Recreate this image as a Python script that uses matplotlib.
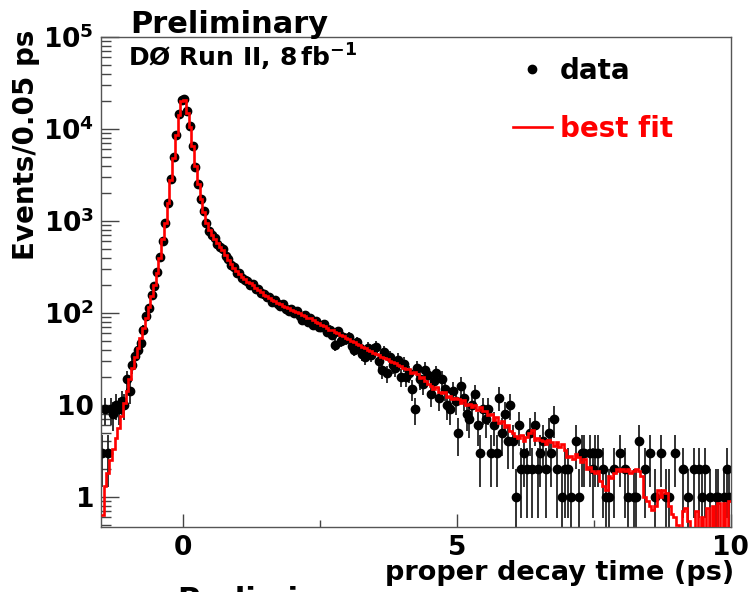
import numpy as np
import matplotlib
matplotlib.use('Agg')
import matplotlib.pyplot as plt
from matplotlib.lines import Line2D
from matplotlib.ticker import FixedLocator, LogLocator, FuncFormatter, NullFormatter

plt.rcParams['font.family'] = ['DejaVu Sans']
plt.rcParams['font.weight'] = 'bold'
plt.rcParams['mathtext.fontset'] = 'dejavusans'

# binning: 0.05 ps bins from -1.5 to 10 ps
bin_lo = -1.5
bin_width = 0.05
n_bins = 230

# fitted model, events per bin
fit_counts = [
    0.63, 1.3, 1.8, 2.5, 3.3, 4.4, 5.6, 7.6, 10.5, 14,
    19, 25, 33, 42, 54, 69, 89, 115, 151, 200,
    275, 400, 630, 955, 1580, 2800, 4800, 8500, 14100, 20000,
    20400, 15100, 10500, 6600, 4000, 2500, 1740, 1260, 955, 795,
    710, 630, 575, 525, 480, 427, 380, 340, 310, 282,
    263, 245, 234, 219, 209, 200, 186, 178, 170, 158,
    151, 145, 138, 135, 129, 126, 120, 115, 112, 107,
    105, 102, 100, 96, 93, 89, 87, 83, 79, 78,
    74, 72, 69, 66, 65, 62, 60, 58, 56, 54,
    52.5, 50, 48.5, 46, 45, 43, 42, 40, 38.5, 37,
    35.9, 34.7, 33.5, 32.4, 31.3, 30.2, 29.2, 28.2, 27.2, 26.3,
    25.4, 24.5, 24.5, 22.0, 22.9, 21.4, 19.5, 20.0, 18.2, 17.0,
    16.2, 15.0, 15.5, 13.8, 13.5, 13.8, 12.3, 12.6, 11.5, 12.0,
    11.5, 10.5, 11.2, 10.0, 10.3, 9.4, 9.9, 8.9, 9.4, 8.6,
    8.5, 7.7, 8.0, 6.9, 7.3, 6.3, 6.6, 5.7, 6.0, 5.2,
    5.0, 4.6, 4.4, 4.7, 4.0, 4.5, 5.0, 5.3, 4.2, 4.4,
    4.1, 4.0, 3.8, 4.2, 3.9, 3.6, 3.9, 3.5, 3.8, 3.2,
    2.7, 2.8, 2.6, 2.9, 2.7, 2.4, 2.6, 2.0, 2.1, 1.9,
    1.8, 1.9, 1.5, 1.3, 1.2, 1.7, 1.6, 1.8, 2.0, 1.9,
    2.0, 1.9, 2.0, 1.8, 1.9, 2.0, 1.9, 1.7, 1.0, 0.9,
    0.8, 0.72, 0.8, 1.2, 1.0, 1.2, 1.1, 0.8, 0.65, 0.6,
    0.5, 0.3, 0.7, 0.75, 0.55, 0.3, 0.4, 0.7, 0.3, 0.6,
    0.3, 0.75, 0.4, 0.8, 0.35, 0.85, 0.4, 0.85, 0.3, 0.9,
]

# observed events per bin (black points), 0 = empty bin
data_counts = [
    3, 9, 3, 9, 8, 10, 9, 11, 10, 19,
    14, 27, 34, 40, 47, 66, 92, 112, 158, 195,
    280, 410, 610, 960, 1560, 2850, 4900, 8600, 14400, 20800,
    21000, 15600, 10700, 6500, 3900, 2550, 1720, 1280, 960, 780,
    700, 645, 560, 520, 490, 420, 385, 330, 315, 275,
    270, 240, 228, 225, 200, 205, 180, 182, 163, 160,
    148, 150, 132, 137, 124, 118, 125, 110, 106, 111,
    100, 104, 92, 84, 95, 80, 88, 74, 82, 70,
    70, 75, 62, 66, 58, 45, 63, 50, 55, 52,
    55, 44, 40, 48, 42, 36, 33, 42, 35, 40,
    43, 30, 24, 38, 22, 33, 27, 25, 31, 20,
    28, 20, 22, 15, 9, 25, 19, 17, 24, 21,
    13, 18, 22, 12, 19, 15, 10, 9, 14, 11,
    5, 16, 12, 8, 7, 10, 13, 6, 3, 9,
    7, 9, 3, 6, 3, 12, 5, 8, 4, 10,
    4, 1, 6, 2, 3, 2, 5, 2, 6, 2,
    3, 4, 2, 5, 3, 7, 2, 0, 1, 2,
    2, 1, 0, 4, 1, 3, 3, 0, 3, 2,
    3, 3, 0, 2, 1, 1, 0, 2, 0, 3,
    0, 2, 1, 0, 1, 1, 4, 0, 2, 0,
    3, 0, 1, 0, 3, 0, 1, 1, 0, 3,
    0, 0, 2, 0, 1, 0, 2, 0, 2, 1,
    2, 0, 1, 0, 1, 1, 0, 1, 2, 1,
]

x_ticks = [0, 5, 10]
x_minor = [2.5, 7.5]

edges = bin_lo + bin_width * np.arange(n_bins + 1)
centers = 0.5 * (edges[:-1] + edges[1:])
fit = np.array(fit_counts, dtype=float)
n = np.array(data_counts, dtype=float)
has = n > 0
err = np.sqrt(n[has])
lower = np.minimum(err, n[has] - 1e-3)

fig = plt.figure(figsize=(7.48, 5.92), dpi=100)
ax = fig.add_axes([0.135, 0.1098, 0.842, 0.8277])

ax.errorbar(centers[has], n[has], yerr=[lower, err], xerr=bin_width / 2,
            fmt='o', color='black', ecolor='#222222', ms=6, elinewidth=1.3,
            capsize=0, zorder=2)
ax.stairs(fit, edges, baseline=None, color='#ff0000', lw=1.9, zorder=3)

ax.set_yscale('log')
ax.set_xlim(-1.5, 10)
ax.set_ylim(0.47, 1e5)

ax.xaxis.set_major_locator(FixedLocator(x_ticks))
ax.xaxis.set_minor_locator(FixedLocator(x_minor))
ax.xaxis.set_major_formatter(FuncFormatter(lambda v, p: '%d' % v))
ax.yaxis.set_major_locator(LogLocator(base=10, numticks=10))
ax.yaxis.set_minor_locator(LogLocator(base=10, subs=np.arange(2, 10), numticks=20))
ax.yaxis.set_minor_formatter(NullFormatter())


def ylab(v, pos):
    if v < 0.99:
        return ''
    e = int(round(np.log10(v)))
    if e == 0:
        return '1'
    if e == 1:
        return '10'
    return r'$\mathbf{10^{%d}}$' % e


ax.yaxis.set_major_formatter(FuncFormatter(ylab))

ax.tick_params(which='both', direction='in', top=False, right=False,
               labelsize=19, color='#444444')
ax.tick_params(axis='y', which='major', length=13, width=1, pad=5)
ax.tick_params(axis='y', which='minor', length=7, width=1)
ax.tick_params(axis='x', which='major', length=9.5, width=1, pad=6)
ax.tick_params(axis='x', which='minor', length=5, width=1)
for s in ax.spines.values():
    s.set_color('#555555')
    s.set_linewidth(1.0)

ax.set_ylabel('Events/0.05 ps', fontsize=20, fontweight='bold', loc='top')
ax.yaxis.set_label_coords(-0.097, 1.016)
ax.set_xlabel('proper decay time (ps)', fontsize=19.5, fontweight='bold', loc='right')
ax.xaxis.set_label_coords(1.006, -0.068)

handles = [Line2D([], [], marker='o', color='black', ls='none', ms=6),
           Line2D([], [], color='#ff0000', lw=1.9)]
ax.legend(handles, ['data', 'best fit'], loc='upper left',
          bbox_to_anchor=(0.654, 0.959), frameon=False, borderpad=0,
          borderaxespad=0, handlelength=1.4, handletextpad=0.3,
          labelspacing=1.06, prop={'size': 20, 'weight': 'bold'},
          labelcolor=['black', '#ff0000'])

fig.text(130 / 748, 1 - 33 / 592, 'Preliminary', fontsize=22, fontweight='bold',
         va='baseline', ha='left')
fig.text(128 / 748, 1 - 67 / 592, r'DØ Run II, 8$\,$fb$^{\mathbf{-1}}$', fontsize=18,
         fontweight='bold', va='baseline', ha='left')
# second copy of the label, mostly below the canvas edge
fig.text(177 / 748, 1 - 609 / 592, 'Preliminary', fontsize=22, fontweight='bold',
         va='baseline', ha='left')

fig.savefig('out.png', dpi=100)
